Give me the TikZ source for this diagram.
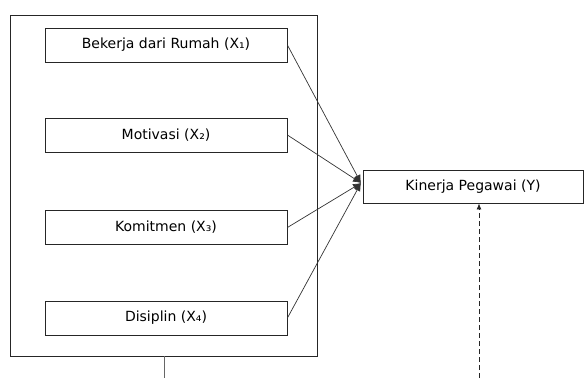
\documentclass[tikz,border=0pt]{standalone}
\usepackage{fontspec}
\setmainfont{DejaVu Sans}
\usetikzlibrary{arrows.meta}
\begin{document}
\begin{tikzpicture}[x=1pt,y=-1pt,
  box/.style={draw=black!85,line width=0.8pt,minimum height=34pt,inner sep=0pt,font=\fontsize{14}{16}\selectfont},
  link/.style={draw=black!80,line width=0.7pt,-{Latex[length=8pt,width=7pt]}}]
\useasboundingbox (0,0) rectangle (586,378);
\node[draw=black!85,line width=0.8pt,minimum width=307pt,minimum height=341pt,inner sep=0pt] (outer) at (163.5,185.5) {};
\node[box,minimum width=242pt] (x1) at (166,45) {Bekerja dari Rumah (X₁)};
\node[box,minimum width=242pt] (x2) at (166,135) {Motivasi (X₂)};
\node[box,minimum width=242pt] (x3) at (166,227.5) {Komitmen (X₃)};
\node[box,minimum width=242pt] (x4) at (166,318) {Disiplin (X₄)};
\node[box,minimum width=220pt,minimum height=33pt] (y) at (473,186.5) {Kinerja Pegawai (Y)};
\coordinate (tip) at (361,183);
\draw[link] (x1.east) -- (tip);
\draw[link] (x2.east) -- (tip);
\draw[link] (x3.east) -- (tip);
\draw[link] (x4.east) -- (tip);
\coordinate (dstart) at (479,378);
\draw[draw=black!85,line width=0.8pt,dashed,dash pattern=on 5pt off 3pt,-{Latex[length=6pt,width=5pt]}] (dstart) -- (y.south -| dstart);
\coordinate (bend) at (164,378);
\draw[draw=black!60,line width=0.8pt] (outer.south -| bend) -- (bend);
\end{tikzpicture}
\end{document}
